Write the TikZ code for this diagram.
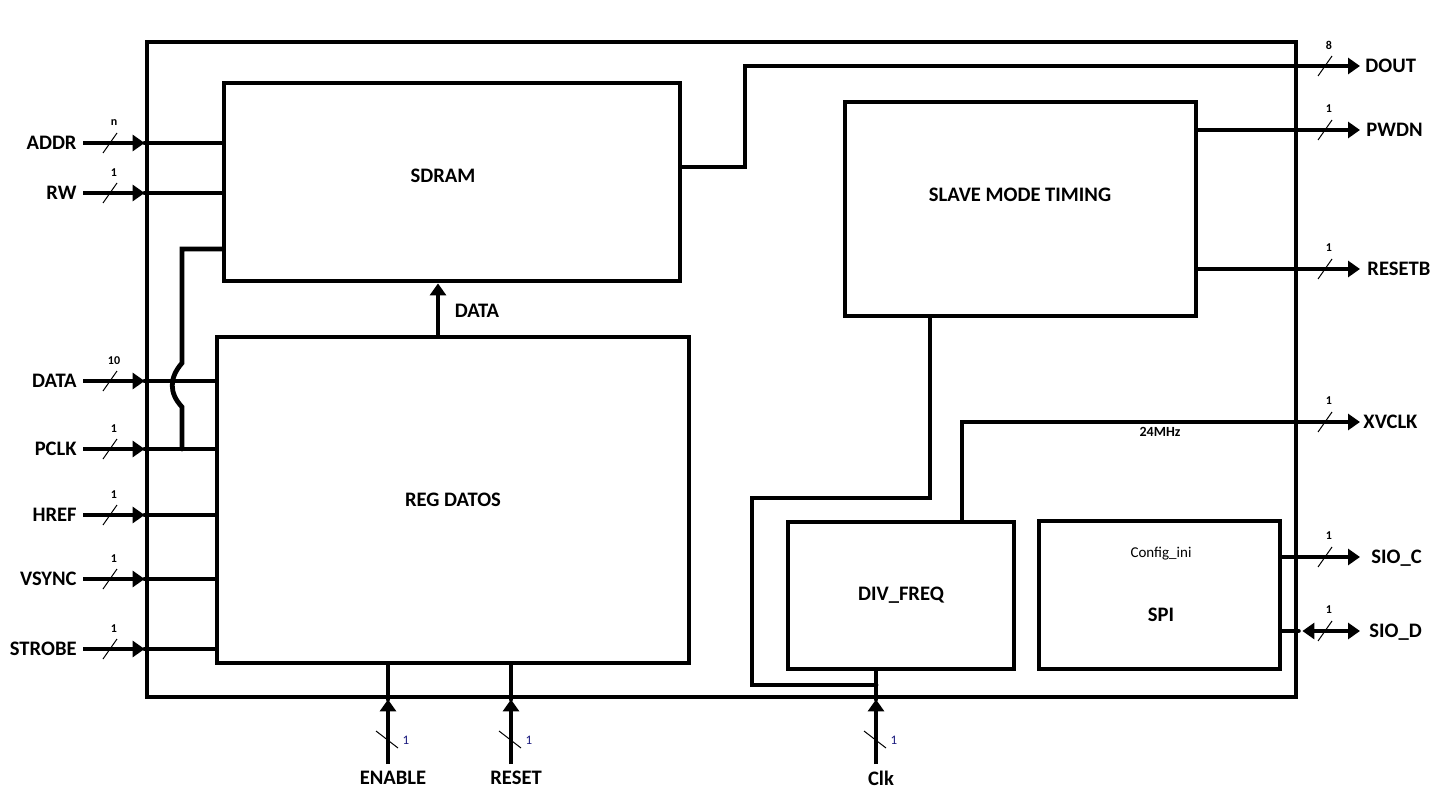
\documentclass[tikz,border=0pt]{standalone}
\usepackage{fontspec}
\setmainfont{Carlito}
\usetikzlibrary{arrows.meta,calc}

\definecolor{navy}{RGB}{25,25,125}

\tikzset{
  wire/.style={line width=2.4pt, line cap=round},
  pin/.style={line width=2.4pt, -{Triangle[length=6pt,width=8pt]}},
  biopin/.style={line width=2.4pt, {Triangle[length=6pt,width=8pt]}-{Triangle[length=6pt,width=8pt]}},
  block/.style={draw, line width=2.4pt, inner sep=0pt, font=\bfseries\fontsize{10.3}{12}\selectfont},
  blocktext/.style={inner sep=0pt, font=\bfseries\fontsize{10.3}{12}\selectfont},
  pinlabel/.style={inner sep=1pt, text depth=0pt, font=\bfseries\fontsize{10.3}{12}\selectfont},
  buswidth/.style={inner sep=0pt, font=\bfseries\fontsize{6}{7}\selectfont},
  slash/.style={line width=0.5pt},
}

\begin{document}
\begin{tikzpicture}[x=0.5pt, y=-0.5pt]
  \useasboundingbox (0,0) rectangle (1456,808);

  % chip frame and blocks
  \node[block, minimum width=574.5pt, minimum height=327.5pt] (chip) at (721.5,369.5) {};
  \node[block, minimum width=228pt, minimum height=99pt] (sdram) at (452,182) {};
  \node[blocktext] (sdramtxt) at (443,176) {SDRAM};
  \node[block, minimum width=236pt, minimum height=163pt] (reg) at (453,500) {REG DATOS};
  \node[block, minimum width=175.5pt, minimum height=107pt] (slave) at (1020.5,209) {};
  \node[blocktext] (slavetxt) at (1020,195) {SLAVE MODE TIMING};
  \node[block, minimum width=113pt, minimum height=73.5pt] (div) at (901,595.5) {DIV\_FREQ};
  \node[block, minimum width=120.5pt, minimum height=74pt] (spi) at (1159.5,595) {};
  \node[inner sep=0pt, font=\fontsize{7.5}{9}\selectfont] (spicfg) at (1161,554) {Config\_ini};
  \node[blocktext] (spitxt) at (1161,615) {SPI};

  % left inputs
  \foreach \y/\name/\w/\dest in {143/ADDR/n/sdram, 193/RW/1/sdram, 381/DATA/10/reg,
      449/PCLK/1/reg, 515/HREF/1/reg, 579/VSYNC/1/reg, 649/STROBE/1/reg}{
    \node[pinlabel, anchor=east] (in\name) at (79,\y) {\name};
    \draw[pin] ([xshift=2pt]in\name.east) -- (chip.west |- in\name.east);
    \draw[wire] (chip.west |- in\name.east) -- (\dest.west |- in\name.east);
    \draw[slash] (103,\y+10) -- (117,\y-10);
    \node[buswidth] (w\name) at (114,\y-20) {\w};
  }

  % PCLK also goes up to SDRAM, hopping over DATA
  \coordinate (pclktap) at (182,449);
  \coordinate (pclktop) at (182,249);
  \draw[wire] (pclktap) -- (182,407) .. controls (169,393) and (169,378) .. (182,363)
    -- (pclktop) -- (pclktop -| sdram.west);

  % DATA from REG DATOS to SDRAM
  \coordinate (dtap) at ([xshift=-7.5pt]reg.north);
  \draw[pin] (dtap) -- (dtap |- sdram.south);
  \node[pinlabel] (datalbl) at (477,311) {DATA};

  % right outputs
  \foreach \y/\name/\txt/\w/\lx in {66/dout/DOUT/8/1363, 130/pwdn/PWDN/1/1364, 269/resetb/RESETB/1/1365,
      422/xvclk/XVCLK/1/1361, 557/sioc/SIO\_C/1/1369, 631/siod/SIO\_D/1/1367}{
    \node[pinlabel, anchor=west] (out\name) at (\lx,\y) {\txt};
    \draw[slash] (1318,\y+10) -- (1332,\y-10);
    \node[buswidth] (w\name) at (1329,\y-21) {\w};
  }
  \foreach \name in {dout,pwdn,resetb,xvclk,sioc}
    \draw[pin] (chip.east |- out\name.west) -- (1360,0 |- out\name.west);
  \draw[biopin] ($(chip.east |- outsiod.west)+(4,0)$) -- (1360,0 |- outsiod.west);

  \draw[wire] ([yshift=7.5pt]sdram.east) -| (745,66) -- (chip.east |- outdout.west);
  \draw[wire] (slave.east |- outpwdn.west) -- (chip.east |- outpwdn.west);
  \draw[wire] (slave.east |- outresetb.west) -- (chip.east |- outresetb.west);
  \draw[wire] ([xshift=30.5pt]div.north) |- (chip.east |- outxvclk.west);
  \node[inner sep=0pt, font=\bfseries\fontsize{7}{8}\selectfont] (fxv) at (1160,432) {24MHz};
  \draw[wire] (spi.east |- outsioc.west) -- (chip.east |- outsioc.west);
  \draw[wire] (spi.east |- outsiod.west) -- (chip.east |- outsiod.west);

  % bottom inputs
  \foreach \x/\name/\txt in {388/enable/ENABLE, 511/reset/RESET, 876/clk/Clk}{
    \node[pinlabel] (in\name) at (\x+5,778) {\txt};
    \coordinate (tail\name) at (\x,764);
    \draw[pin] (tail\name) -- (chip.south -| tail\name);
    \draw[slash] (\x-12,731) -- (\x+10,748);
    \node[buswidth, text=navy, font=\fontsize{6.5}{7}\selectfont] (w\name) at (\x+18,740) {1};
  }
  \draw[wire] (chip.south -| tailenable) -- (reg.south -| tailenable);
  \draw[wire] (chip.south -| tailreset) -- (reg.south -| tailreset);
  \draw[wire] (chip.south -| tailclk) -- (div.south -| tailclk);

  % Clk loop to SLAVE MODE TIMING
  \coordinate (clktap) at (876,685);
  \draw[wire] (clktap) -| (752,498) -| ([xshift=-45.25pt]slave.south);
\end{tikzpicture}
\end{document}
